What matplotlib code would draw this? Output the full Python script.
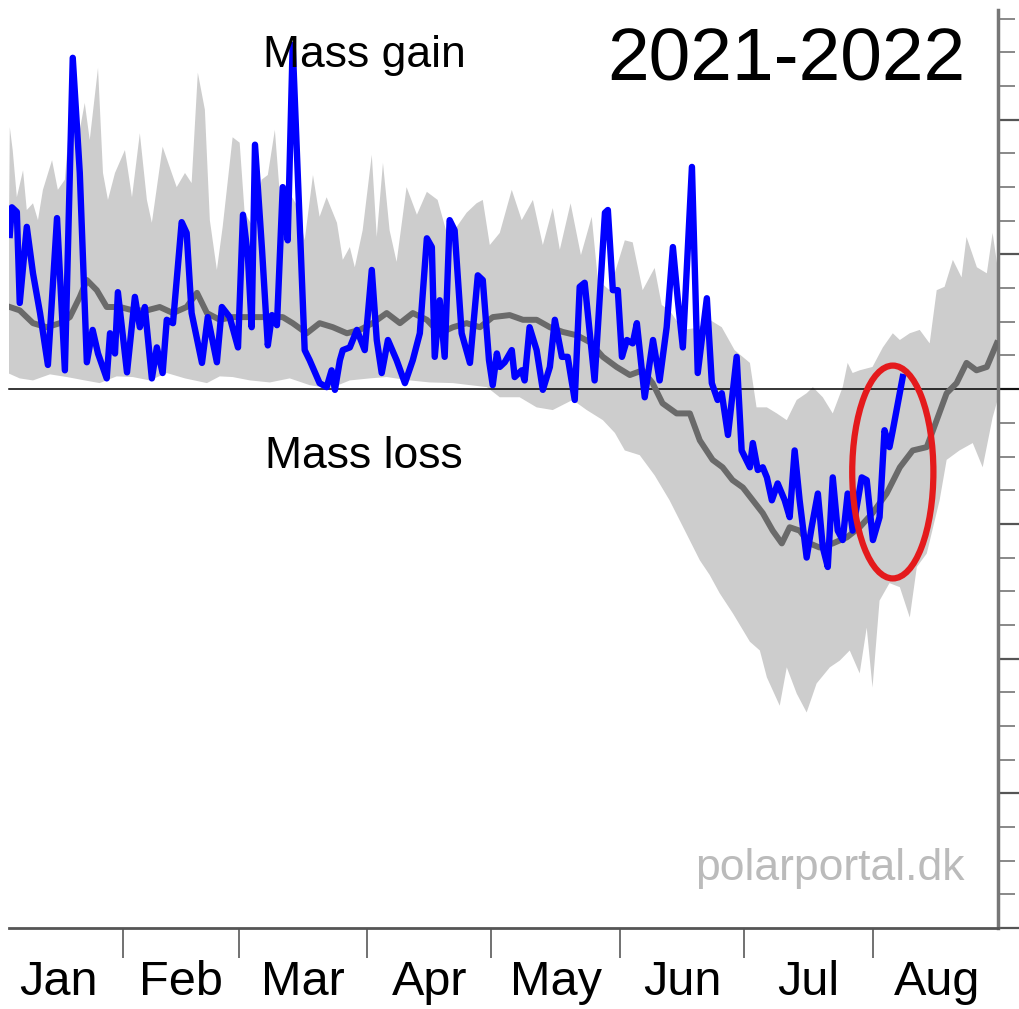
import matplotlib.pyplot as plt
from matplotlib.patches import Ellipse

plt.rcParams['font.family'] = ['Liberation Sans', 'DejaVu Sans']

# x = day of year (0 = 1 Jan), y = surface mass balance (Gt/day)
month_names = ["Jan", "Feb", "Mar", "Apr", "May", "Jun", "Jul", "Aug"]
month_starts = [31, 59, 90, 120, 151, 181, 212]
month_mids = [15.5, 45, 74.5, 105, 135.5, 166, 196.5, 227.5]

# upper edge of the grey min-max band
band_hi_day = [3.7, 4.4, 5.4, 6.9, 7.8, 9.3, 10.5, 11.7, 13.9, 15.3, 17.0, 18.2, 20.6, 21.8,
               23.0, 25.0, 26.2, 27.4, 29.1, 31.5, 33.2, 35.1, 36.8, 38.0, 40.6, 42.8, 44.0,
               46.0, 47.6, 49.1, 50.8, 52.0, 53.7, 55.1, 57.5, 59.2, 60.4, 62.4, 64.5, 66.0,
               67.7, 69.1, 70.8, 73.0, 74.9, 76.9, 78.5, 80.2, 82.7, 84.1, 85.8, 87.0, 88.9,
               91.1, 92.3, 93.8, 95.4, 97.1, 99.5, 102.0, 104.4, 107.0, 109.2, 111.6, 114.0,
               116.4, 117.9, 119.6, 122.0, 124.9, 127.3, 130.0, 132.4, 134.8, 136.5, 139.1,
               141.6, 144.2, 145.7, 148.5, 152.2, 154.1, 156.5, 159.4, 161.1, 163.0, 166.2,
               169.6, 172.7, 175.6, 178.7, 182.4, 184.0, 186.5, 188.9, 191.3, 193.7, 196.1,
               197.6, 200.0, 202.4, 204.8, 206.0, 207.2, 208.9, 212.0, 214.5, 216.9, 218.6,
               221.0, 223.4, 225.8, 227.5, 229.4, 231.4, 233.5, 234.7, 237.2, 239.6, 241.0, 242.2]
band_hi = [3.89, 3.55, 2.85, 3.25, 2.66, 2.76, 2.51, 2.96, 3.40, 2.96, 3.11, 4.04, 3.85, 4.25,
           3.70, 4.77, 3.21, 2.81, 3.21, 3.55, 2.85, 3.80, 2.81, 2.47, 3.60, 3.21, 3.00,
           3.21, 3.06, 4.70, 4.15, 2.51, 1.77, 2.41, 3.74, 3.66, 2.62, 2.41, 3.11, 3.18,
           3.85, 2.73, 2.96, 2.73, 2.21, 3.18, 2.56, 2.85, 2.47, 1.92, 2.11, 1.81, 2.36,
           3.48, 2.26, 3.36, 2.36, 1.89, 3.00, 2.59, 2.93, 2.81, 2.32, 2.41, 2.62,
           2.76, 2.81, 2.14, 2.32, 2.96, 2.51, 2.81, 2.14, 2.69, 2.07, 2.76,
           1.99, 2.56, 1.62, 1.47, 2.21, 2.18, 1.47, 1.80, 1.25, 1.17, 0.88,
           0.91, 1.03, 0.92, 0.58, 0.39, -0.27, -0.27, -0.36, -0.46, -0.16, -0.06,
           0.03, -0.12, -0.36, 0.03, 0.39, 0.24, 0.28, 0.33, 0.62, 0.83, 0.73,
           0.83, 0.88, 0.68, 1.47, 1.52, 1.92, 1.66, 2.26, 1.81, 1.72, 2.32, 1.81]

# lower edge of the grey min-max band
band_lo_day = [3.2, 6.1, 9.3, 13.4, 17.5, 21.8, 25.4, 29.5, 33.4, 37.5, 41.6, 46.0, 51.3, 54.4,
               57.5, 61.7, 66.5, 71.3, 76.1, 81.0, 85.8, 90.6, 94.7, 100.3, 105.1, 110.7,
               114.8, 118.9, 122.0, 126.8, 130.9, 134.8, 139.6, 143.0, 146.9, 149.8, 152.2,
               155.8, 159.4, 163.0, 166.7, 170.3, 172.7, 175.1, 178.3, 182.4, 184.8, 186.5,
               189.6, 191.3, 193.7, 196.1, 198.5, 201.7, 204.1, 206.5, 208.9, 210.6, 212.0,
               213.7, 216.1, 218.6, 221.0, 222.7, 225.1, 228.2, 229.9, 233.0, 236.2, 238.6,
               241.0, 242.2]
band_lo = [0.24, 0.16, 0.13, 0.22, 0.18, 0.13, 0.09, 0.19, 0.18, 0.13, 0.24, 0.16, 0.09, 0.19,
           0.18, 0.13, 0.10, 0.16, 0.06, 0.01, 0.13, 0.16, 0.18, 0.13, 0.10, 0.09,
           0.06, 0.03, -0.12, -0.12, -0.27, -0.31, -0.16, -0.31, -0.46, -0.65, -0.91,
           -0.98, -1.28, -1.65, -2.10, -2.54, -2.76, -3.03, -3.33, -3.75, -3.88, -4.28,
           -4.70, -4.13, -4.52, -4.80, -4.37, -4.13, -4.03, -3.88, -4.22, -3.54, -4.43,
           -3.14, -2.88, -2.94, -3.39, -2.64, -2.44, -1.65, -1.05, -0.91, -0.80, -1.16,
           -0.42, -0.16]

# mean of earlier years
mean_day = [3.7, 6.1, 9.3, 12.6, 15.8, 18.2, 20.6, 22.3, 24.7, 27.1, 30.3, 33.4, 36.8, 39.9,
            43.1, 46.4, 48.9, 51.3, 54.4, 57.5, 60.9, 67.2, 69.6, 72.0, 75.4, 78.5, 81.7,
            85.1, 88.2, 91.3, 94.7, 97.9, 101.0, 104.4, 107.5, 110.7, 114.0, 117.2, 120.3,
            124.4, 127.6, 130.9, 134.1, 137.2, 140.6, 143.7, 146.9, 150.2, 153.4, 156.5,
            158.9, 161.3, 164.7, 167.9, 170.3, 173.4, 175.8, 178.2, 180.7, 183.1, 185.5,
            187.9, 190.1, 192.0, 194.4, 196.8, 199.2, 202.4, 205.8, 208.9, 212.0, 215.4,
            218.6, 221.7, 225.1, 227.5, 229.9, 232.3, 234.7, 237.1, 239.6, 242.0]
mean_smb = [1.22, 1.17, 0.98, 0.92, 0.98, 1.07, 1.37, 1.62, 1.47, 1.22, 1.22, 1.17, 1.17, 1.22,
            1.13, 1.22, 1.43, 1.13, 1.03, 1.07, 1.07, 1.07, 1.07, 0.98, 0.83, 0.98, 0.92,
            0.83, 0.88, 0.98, 1.13, 0.98, 1.13, 1.03, 0.83, 0.92, 0.98, 0.92, 1.07,
            1.10, 1.03, 1.03, 0.92, 0.85, 0.80, 0.70, 0.48, 0.33, 0.21, 0.28,
            0.09, -0.21, -0.36, -0.36, -0.76, -1.05, -1.16, -1.35, -1.46, -1.65, -1.84,
            -2.10, -2.29, -2.05, -2.10, -2.29, -2.35, -2.29, -2.20, -2.05, -1.84, -1.55,
            -1.16, -0.91, -0.86, -0.46, -0.06, 0.09, 0.39, 0.28, 0.33, 0.68]

# 2021-2022 season
smb_day = [3.7, 4.2, 5.4, 6.1, 7.8, 9.3, 11.0, 12.9, 15.1, 17.0, 18.9, 20.6, 22.3, 23.7, 25.0,
           27.1, 27.9, 29.1, 29.8, 32.0, 33.9, 35.1, 36.3, 38.0, 39.2, 40.6, 41.6, 43.1, 45.2,
           46.4, 47.6, 50.1, 51.5, 53.7, 54.9, 56.8, 58.8, 60.0, 61.2, 62.1, 62.9, 64.6, 66.0,
           67.0, 68.2, 69.6, 70.8, 72.0, 74.9, 76.1, 78.5, 80.2, 81.4, 82.2, 83.4, 84.1, 85.8,
           87.5, 89.4, 91.1, 92.3, 93.5, 95.0, 97.1, 99.1, 101.0, 102.7, 104.4, 105.6, 106.3,
           107.5, 108.7, 109.9, 111.1, 112.8, 114.8, 116.7, 117.9, 119.4, 120.3, 121.3, 122.0,
           123.2, 124.9, 125.6, 127.3, 128.0, 129.2, 130.9, 132.4, 134.1, 135.3, 137.0, 138.4,
           140.1, 141.3, 142.5, 144.9, 147.4, 148.1, 149.3, 150.5, 151.5, 152.7, 154.1, 155.1,
           157.0, 159.0, 160.6, 162.3, 163.8, 165.0, 166.2, 168.4, 169.8, 172.0, 173.2, 174.6,
           175.6, 177.1, 179.2, 180.4, 182.4, 183.1, 184.3, 185.5, 186.5, 187.7, 189.1, 190.8,
           192.0, 193.2, 194.4, 196.1, 197.3, 198.8, 200.0, 201.2, 202.4, 203.6, 204.8, 206.0,
           207.2, 209.4, 210.6, 212.1, 213.7, 214.9, 216.1, 216.9, 219.3]
smb = [2.29, 2.70, 2.63, 1.28, 2.41, 1.72, 1.13, 0.36, 2.54, 0.28, 4.92, 3.21, 0.40, 0.88, 0.53,
       0.16, 0.83, 0.53, 1.44, 0.25, 1.37, 0.92, 1.22, 0.16, 0.62, 0.24, 1.03, 0.98, 2.48,
       2.32, 1.13, 0.39, 1.07, 0.40, 1.22, 1.07, 0.62, 2.59, 1.96, 0.92, 3.63, 2.07, 0.65,
       1.10, 0.95, 3.00, 2.21, 5.11, 0.58, 0.43, 0.09, 0.03, 0.28, -0.01, 0.43, 0.58, 0.62,
       0.88, 0.58, 1.77, 0.73, 0.24, 0.73, 0.43, 0.09, 0.43, 0.83, 2.24, 2.11, 0.48,
       1.32, 0.48, 2.51, 2.36, 0.83, 0.39, 1.69, 1.62, 0.43, 0.06, 0.53, 0.33,
       0.40, 0.58, 0.18, 0.28, 0.13, 0.92, 0.58, -0.01, 0.33, 1.03, 0.48, 0.48,
       -0.16, 1.52, 1.58, 0.13, 2.62, 2.66, 1.47, 1.47, 0.48, 0.73, 0.68, 0.98,
       -0.12, 0.73, 0.13, 0.92, 2.11, 1.32, 0.62, 3.30, 0.24, 1.35, 0.09, -0.16,
       -0.06, -0.68, 0.48, -0.91, -1.16, -0.80, -1.20, -1.16, -1.31, -1.65, -1.40, -1.65,
       -1.90, -0.91, -1.65, -2.50, -2.05, -1.55, -2.35, -2.64, -1.31, -2.10, -2.24, -1.55,
       -2.10, -1.31, -1.35, -2.24, -1.90, -0.61, -0.86, -0.61, 0.18]

fig = plt.figure(figsize=(10.19, 10.09), dpi=100)
ax = fig.add_axes([0.0088, 0.0803, 0.9706, 0.9098])

# grey band as one polygon: upper edge forward, lower edge back
ax.fill(band_hi_day + band_lo_day[::-1], band_hi + band_lo[::-1],
        color="#cdcdcd", lw=0, zorder=1)
ax.axhline(0, xmin=0, xmax=1.03, color="black", lw=1.1, clip_on=False, zorder=2)
ax.plot(mean_day, mean_smb, color="#6a6a6a", lw=4.3, zorder=3)
ax.plot(smb_day, smb, color="#0000ff", lw=4.6, zorder=4)

# red ring around the early-August jump
ax.add_patch(Ellipse((216.9, -1.23), 19.6, 3.16, fill=False,
                     ec="#e41a1c", lw=4.5, zorder=6))

ax.set_xlim(3.5, 242.3)
ax.set_ylim(-8, 5.63)

ax.set_xticks(month_starts)
ax.set_xticklabels([])
ax.set_xticks(month_mids, minor=True)
ax.set_xticklabels(month_names, minor=True)
ax.tick_params(axis="x", which="major", direction="out", length=21.5,
               width=1.3, color="#666666")
ax.tick_params(axis="x", which="minor", length=0, pad=23, labelsize=35)

ax.yaxis.tick_right()
ax.set_yticks([-8, -6, -4, -2, 0, 2, 4])
ax.set_yticks([v / 2 for v in range(-16, 12)], minor=True)
ax.set_yticklabels([])
ax.tick_params(axis="y", which="major", direction="out", length=19,
               width=1.6, color="#555555")
ax.tick_params(axis="y", which="minor", direction="out", length=12,
               width=1.4, color="#888888")

ax.spines["left"].set_visible(False)
ax.spines["top"].set_visible(False)
ax.spines["bottom"].set_color("#555555")
ax.spines["bottom"].set_linewidth(2)
ax.spines["right"].set_color("#777777")
ax.spines["right"].set_linewidth(2.5)

fig.text(0.947, 0.9207, "2021-2022", ha="right", va="baseline", fontsize=54)
fig.text(0.2581, 0.9336, "Mass gain", ha="left", va="baseline", fontsize=32)
fig.text(0.2601, 0.5362, "Mass loss", ha="left", va="baseline", fontsize=32)
fig.text(0.947, 0.1279, "polarportal.dk", ha="right", va="baseline",
         fontsize=32, color="#bbbbbb")

fig.savefig("out.png", dpi=100)
